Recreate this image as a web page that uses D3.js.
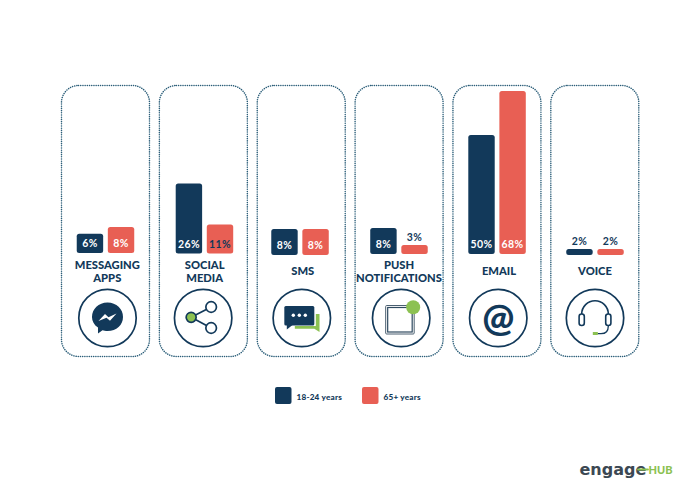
<!DOCTYPE html>
<html>
<head>
<meta charset="utf-8">
<script src="https://cdnjs.cloudflare.com/ajax/libs/d3/7.8.5/d3.min.js"></script>
<style>
  html, body { margin: 0; padding: 0; background: #fff; }
  svg { display: block; }
  text { font-family: Lato, "Open Sans", sans-serif; font-weight: 900; }
</style>
</head>
<body>
<div id="chart"></div>
<script>
// chart values
var channels = ['messaging', 'social', 'sms', 'push', 'email', 'voice']
var channelLabels = [['MESSAGING', 'APPS'], ['SOCIAL', 'MEDIA'], ['SMS'], ['PUSH', 'NOTIFICATIONS'], ['EMAIL'], ['VOICE']]
var young = [6, 26, 8, 8, 50, 2]
var old = [8, 11, 8, 3, 68, 2]
var seriesNames = ['18-24 years', '65+ years']

var navy = '#12395a'
var red = '#e85f54'
var green = '#8cc152'
var logoGrey = '#3c4853'

var svg = d3.select('#chart').append('svg').attr('width', 700).attr('height', 495)

// the bars in the picture are not drawn to one linear ratio, so the scale has stops
var y = d3.scaleLinear()
  .domain([0, 3, 8, 11, 26, 50, 68])
  .range([0, 9, 26, 29, 70, 119, 163])

var panel = d3.scaleBand().domain(channels).range([61.5, 638.8]).paddingInner(0.101).paddingOuter(0)
var groupX = d3.scaleBand().domain([0, 1]).range([0, 57.5]).paddingInner(0.15)
var colour = d3.scaleOrdinal().domain(seriesNames).range([navy, red])

// small hand offsets of each card's content
var barShift = [0, 1.1, -1.2, -0.1, 0.1, 0.2]
var baseShift = [-1, -0.5, 1, 0, 0, 1]
var labelShift = [1.8, 1.3, 1.5, -0.1, 2.1, 0.2]
var iconShift = [2, -0.2, 0.6, 2.1, 1.3, 0.2]

function line (g, d, width, color) {
  return g.append('path').attr('d', d).attr('fill', 'none').attr('stroke', color || navy)
    .attr('stroke-width', width).attr('stroke-linecap', 'round').attr('stroke-linejoin', 'round')
}

var drawIcon = {
  messaging (g) {
    g.append('path').attr('fill', navy)
      .attr('d', 'M0,-15.5 C9,-15.5 15.5,-9 15.5,-1 C15.5,7 9,13 0,13 C-2,13 -3.5,12.8 -5,12.3 L-9.5,15.5 L-9.5,9.6 C-13.5,7 -15.5,3 -15.5,-1 C-15.5,-9 -9,-15.5 0,-15.5 Z')
    g.append('path').attr('fill', '#fff')
      .attr('d', 'M-9,3 L-2.5,-4 L1,-0.8 L9,-4.5 L2.5,2.8 L-1,-0.2 Z')
  },
  social (g) {
    line(g, 'M-12,-0.7 L8,-11 M-12,-0.7 L8,10', 1.7)
    g.append('circle').attr('cx', -12).attr('cy', -0.7).attr('r', 5).attr('fill', green).attr('stroke', navy).attr('stroke-width', 1.7)
    g.selectAll('circle.end').data([-11, 10]).enter().append('circle').attr('class', 'end')
      .attr('cx', 8).attr('cy', function (d) { return d }).attr('r', 5.3)
      .attr('fill', '#fff').attr('stroke', navy).attr('stroke-width', 1.7)
  },
  sms (g) {
    g.append('path').attr('fill', green)
      .attr('d', 'M14,-4 L17.7,-4 L17.7,9 L17.7,14 L12.5,10.8 L-7,10.8 L-7,8 L14,8 Z')
    g.append('rect').attr('x', -17.5).attr('y', -12).attr('width', 30).attr('height', 19.5).attr('rx', 1.5).attr('fill', navy)
    g.append('path').attr('fill', navy).attr('d', 'M-15,6 L-15,11.5 L-8,6 Z')
    g.selectAll('circle.dot').data([-8.5, -2.5, 3.5]).enter().append('circle').attr('class', 'dot')
      .attr('cx', function (d) { return d }).attr('cy', -2.8).attr('r', 1.7).attr('fill', '#fff')
  },
  push (g) {
    g.append('rect').attr('x', -15.5).attr('y', -12.5).attr('width', 28.5).attr('height', 28.5).attr('rx', 1)
      .attr('fill', '#fff').attr('stroke', '#4a5f70').attr('stroke-width', 1)
    g.append('rect').attr('x', -13.5).attr('y', -10.5).attr('width', 24.5).attr('height', 24.5)
      .attr('fill', '#fff').attr('stroke', '#2f4a60').attr('stroke-width', 1.2)
    g.append('circle').attr('cx', 12).attr('cy', -10.7).attr('r', 7).attr('fill', green)
  },
  email (g) {
    g.append('text').attr('text-anchor', 'middle').attr('y', 12.5).attr('font-size', 38).attr('fill', navy).text('@')
  },
  voice (g) {
    line(g, 'M-13.3,-2 L-13.3,-4 A13.3,13.3 0 0 1 13.3,-4 L13.3,-2', 1.6)
    g.selectAll('rect.cup').data([-13.3, 13.3]).enter().append('rect').attr('class', 'cup')
      .attr('x', function (d) { return d - 2.6 }).attr('y', -4).attr('width', 5.2).attr('height', 11.5).attr('rx', 2.4)
      .attr('fill', '#fff').attr('stroke', navy).attr('stroke-width', 1.6)
    line(g, 'M13.3,8 C13.3,13 11,15.7 6,15.7 L3,15.7', 1.3)
    g.append('rect').attr('x', -2.2).attr('y', 14).attr('width', 5).attr('height', 3).attr('fill', green)
  }
}

channels.forEach(function (c, i) {
  var g = svg.append('g').attr('class', 'card ' + c)
  var x0 = panel(c)
  var w = panel.bandwidth()
  var cx = x0 + w / 2

  g.append('rect')
    .attr('x', x0).attr('y', 85.5)
    .attr('width', w).attr('height', 271)
    .attr('rx', 17)
    .attr('fill', 'none')
    .attr('stroke', '#2a5d78')
    .attr('stroke-width', 1.5)
    .attr('stroke-linecap', 'round')
    .attr('stroke-dasharray', '0.1 2.1')

  var base = 254 + baseShift[i]
  var left = cx + barShift[i] - 57.5 / 2
  var vals = [young[i], old[i]]

  g.selectAll('rect.bar').data(vals).enter().append('rect')
    .attr('class', 'bar')
    .attr('x', function (d, k) { return left + groupX(k) })
    .attr('y', function (d) { return base - y(d) })
    .attr('width', groupX.bandwidth())
    .attr('height', function (d) { return y(d) })
    .attr('rx', 2.5)
    .attr('fill', function (d, k) { return colour(seriesNames[k]) })

  g.selectAll('text.val').data(vals).enter().append('text')
    .attr('class', 'val')
    .attr('x', function (d, k) { return left + groupX(k) + groupX.bandwidth() / 2 })
    .attr('y', function (d) { return d <= 3 ? base - y(d) - 4 : base - 6 })
    .attr('text-anchor', 'middle')
    .attr('font-size', 10.5)
    .attr('letter-spacing', 0.4)
    .style('font-weight', 700)
    .attr('fill', function (d) { return (d <= 3 || d == 11) ? navy : '#fff' })
    .text(function (d) { return d + '%' })

  // channel name, one or two lines
  var lines = channelLabels[i]
  var ty = lines.length == 2 ? 268.7 : 275
  g.selectAll('text.name').data(lines).enter().append('text')
    .attr('class', 'name')
    .attr('x', cx + labelShift[i])
    .attr('y', function (d, k) { return ty + k * 13.7 })
    .attr('text-anchor', 'middle')
    .attr('font-size', 11.2)
    .attr('fill', navy)
    .text(function (d) { return d })

  var icon = g.append('g').attr('transform', 'translate(' + (cx + iconShift[i]) + ',318)')
  icon.append('circle').attr('r', 28.7).attr('fill', 'none').attr('stroke', navy).attr('stroke-width', 1.7)
  drawIcon[c](icon)
})

// legend
var legendX = d3.scaleOrdinal().domain(seriesNames).range([275, 362])
var legend = svg.selectAll('g.legend').data(seriesNames).enter().append('g')
  .attr('class', 'legend')
  .attr('transform', function (d) { return 'translate(' + legendX(d) + ',387)' })
legend.append('rect').attr('width', 16.5).attr('height', 17).attr('rx', 2).attr('fill', function (d) { return colour(d) })
legend.append('text').attr('x', 21.5).attr('y', 12.5).attr('font-size', 8.2).attr('letter-spacing', 0.2).attr('fill', navy)
  .text(function (d) { return d })

// logo
var logo = svg.append('g').attr('class', 'logo')
logo.append('text').attr('x', 579.5).attr('y', 474.5).attr('font-size', 16)
  .style('font-family', '"DejaVu Sans"').style('font-weight', 700)
  .attr('fill', logoGrey).text('engage')
line(logo, 'M638,469.5 L648,469.5', 1.8, green)
logo.append('text').attr('x', 648.5).attr('y', 474).attr('font-size', 11).attr('fill', green).text('HUB')
</script>
</body>
</html>
